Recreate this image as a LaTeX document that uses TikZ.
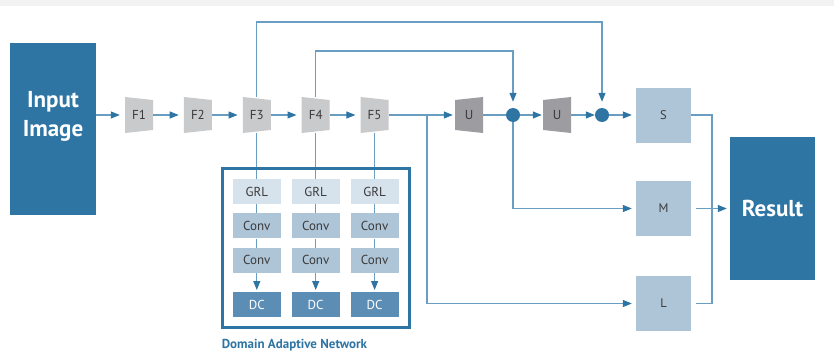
\documentclass[tikz,border=0pt]{standalone}
\usepackage{fontspec}
\setmainfont{PT Sans}
\usepackage{xcolor}
\usepackage{tikz}
\usetikzlibrary{arrows.meta,positioning,fit}

\definecolor{dblue}{HTML}{2E75A3}
\definecolor{lblue}{HTML}{6A9DC2}
\definecolor{pblue}{HTML}{AEC5D8}
\definecolor{gblue}{HTML}{D7E3EC}
\definecolor{mblue}{HTML}{5B8DB5}
\definecolor{fgray}{HTML}{C9CACC}
\definecolor{ugray}{HTML}{9D9DA1}
\definecolor{txt}{HTML}{3A3A3A}
\definecolor{band}{HTML}{F2F2F2}

\begin{document}
\begin{tikzpicture}[x=1pt, y=-1pt,
    ln/.style={draw=lblue, line width=1.1pt},
    arr/.style={ln, -{Triangle[length=9pt,width=7pt,color=dblue]}, shorten >=2pt},
    big/.style={fill=dblue, inner sep=0pt},
    bigtxt/.style={text=white, font=\fontsize{23}{29}\selectfont\bfseries, align=center, inner sep=0pt},
    enc/.style={minimum width=28pt, minimum height=36pt, inner sep=0pt, text=txt, font=\fontsize{13}{15}\selectfont,
      path picture={\fill[fgray] (path picture bounding box.north west) -- ([yshift=-3pt]path picture bounding box.north east)
        -- ([yshift=3pt]path picture bounding box.south east) -- (path picture bounding box.south west) -- cycle;}},
    dec/.style={enc,
      path picture={\fill[ugray] ([yshift=-3pt]path picture bounding box.north west) -- (path picture bounding box.north east)
        -- (path picture bounding box.south east) -- ([yshift=3pt]path picture bounding box.south west) -- cycle;}},
    dot/.style={circle, fill=dblue, minimum size=14pt, inner sep=0pt},
    box/.style={fill=pblue, minimum width=55pt, minimum height=55pt, text=txt, font=\fontsize{12.5}{15}\selectfont},
    grl/.style={fill=gblue, minimum width=48pt, minimum height=25pt, inner sep=0pt, text=txt, font=\fontsize{13}{15}\selectfont},
    conv/.style={grl, fill=pblue},
    dc/.style={grl, fill=mblue, text=white}
  ]
    \useasboundingbox (0,0) rectangle (834,353);
    \fill[band] (0,0) rectangle (834,6);
    \node[big, minimum width=86pt, minimum height=172pt] (in) at (53,129) {};
    \node[bigtxt] (intxt) at (53,116) {Input\\Image};
    \node[enc] (f1) at (139,115) {F1};
    \node[enc, right=30.5pt of f1] (f2) {F2};
    \node[enc, right=30.5pt of f2] (f3) {F3};
    \node[enc, right=30.5pt of f3] (f4) {F4};
    \node[enc, right=30.5pt of f4] (f5) {F5};
    \node[dec] (u1) at (469,115) {U};
    \node[dot] (c1) at (513,115) {};
    \node[dec] (u2) at (557,115) {U};
    \node[dot] (c2) at (602,115) {};
    \node[box] (s) at (663.5,115) {S};
    \node[box] (m) at (663.5,208.5) {M};
    \node[box] (l) at (663.5,303.5) {L};
    \node[big, minimum width=85pt, minimum height=143pt] (res) at (772.5,208.5) {};
    \node[bigtxt] (restxt) at (res) {Result};
    \coordinate (r1) at (0,191.5);
    \coordinate (t1) at (0,22);
    \coordinate (t2) at (0,51);
    \coordinate (br) at (427,115);
    \coordinate (jn) at (712,208.5);
    \foreach \i/\f in {1/f3,2/f4,3/f5} {
      \node[grl] (g\i) at (\f |- r1) {GRL};
      \node[conv, below=9pt of g\i] (ca\i) {Conv};
      \node[conv, below=9pt of ca\i] (cb\i) {Conv};
      \node[dc, below=19pt of cb\i] (d\i) {DC};
      \draw[ln] (\f) -- (g\i);
      \draw[ln] (g\i) -- (ca\i);
      \draw[ln] (ca\i) -- (cb\i);
      \draw[arr] (cb\i) -- (d\i);
    }
    \node[draw=dblue, line width=3pt, fit=(g1)(d3), inner sep=10.5pt] (dan) {};
    \node[anchor=north west, inner sep=0pt, text=dblue, font=\fontsize{13}{15}\selectfont\bfseries]
      (danlbl) at ([xshift=1pt, yshift=-10pt]dan.south west) {Domain Adaptive Network};
    \draw[arr, shorten >=5pt] (in.east |- f1) -- (f1);
    \foreach \a/\b in {f1/f2,f2/f3,f3/f4,f4/f5}
      \draw[arr, shorten >=5pt] (\a) -- (\b);
    \draw[arr] (f5) -- (u1);
    \draw[ln] (u1) -- (c1);
    \draw[arr, shorten >=1pt] (c1) -- (u2);
    \draw[arr, shorten >=0pt] (u2) -- (c2);
    \draw[arr, shorten >=4pt] (c2) -- (s);
    \draw[arr, shorten >=6pt] (f3.north) -- (f3 |- t1) -| (c2);
    \draw[arr, shorten >=6pt] (f4.north) -- (f4 |- t2) -| (c1);
    \draw[arr, shorten >=4pt] (c1) |- (m);
    \draw[arr, shorten >=4pt] (br) |- (l);
    \draw[ln] (s) -| (jn);
    \draw[ln] ([xshift=5pt]l.east) -| (jn);
    \draw[arr, shorten >=3pt] ([xshift=5pt]m.east) -- (res);
  \end{tikzpicture}
\end{document}
